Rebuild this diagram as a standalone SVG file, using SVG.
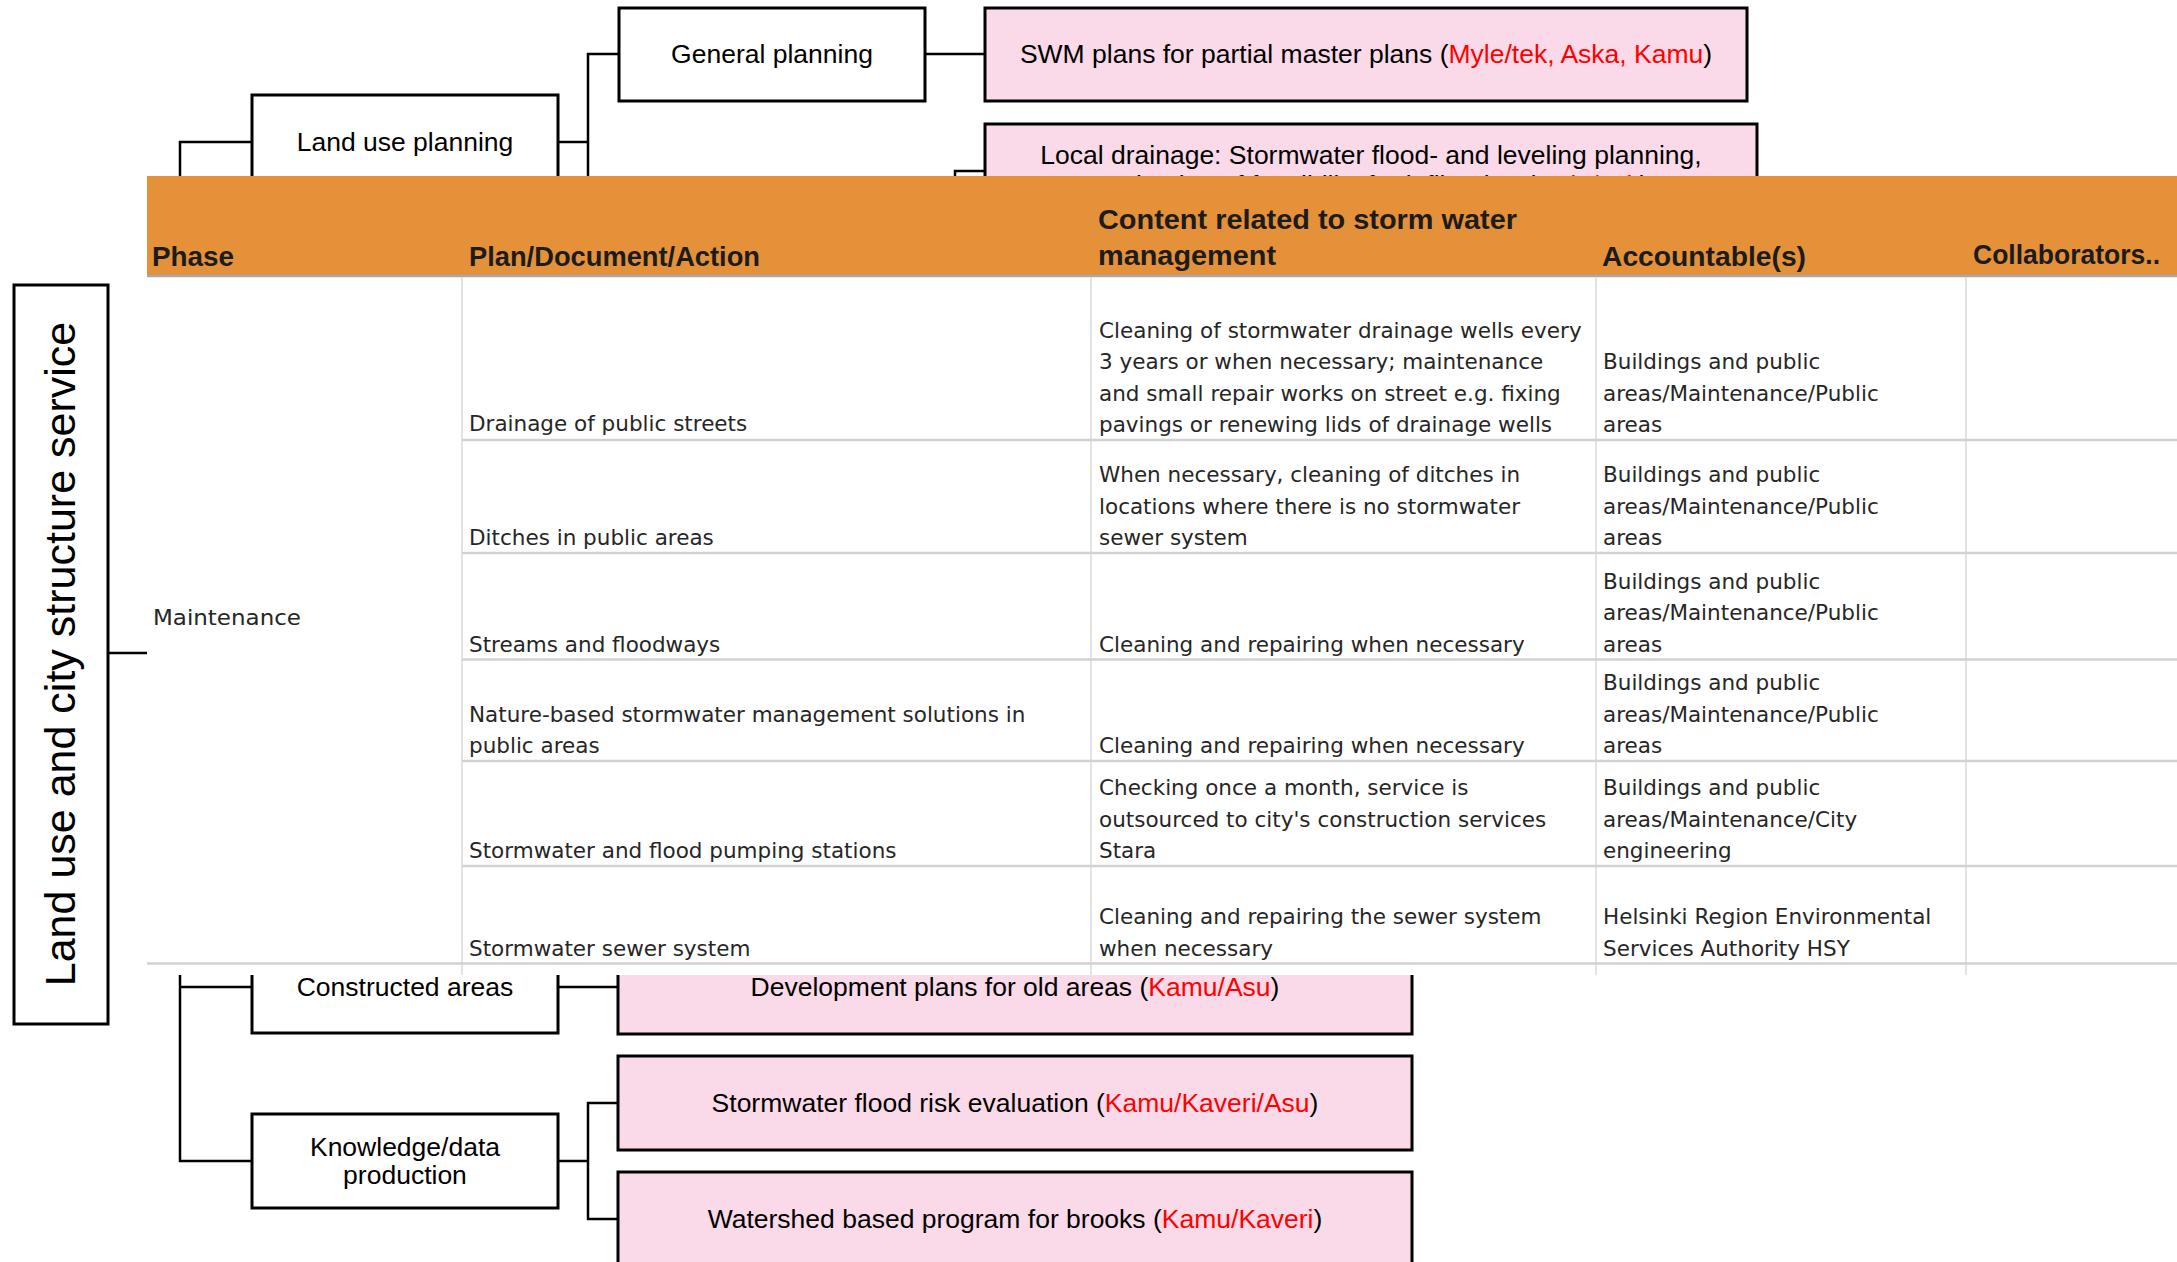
<svg xmlns="http://www.w3.org/2000/svg" width="2177" height="1262" viewBox="0 0 2177 1262">
<style>
.box{fill:#ffffff;stroke:#000000;stroke-width:3}
.pink{fill:#FADAE8;stroke:#000000;stroke-width:3}
.lbl{font-family:"Liberation Sans",Arial,sans-serif;font-size:26.5px;fill:#000000;text-anchor:middle}
.red{fill:#FF0000}
.conn{fill:none;stroke:#000000;stroke-width:2.5}
.hdr{font-family:"Liberation Sans",Arial,sans-serif;font-size:28px;font-weight:bold;fill:#1c1c1c}
.cell{font-family:"DejaVu Sans",sans-serif;font-size:21.5px;fill:#262626}
.rowline{stroke:#D2D2D2;stroke-width:2.5}
.colline{stroke:#DADADA;stroke-width:1.5}
</style>
<rect x="0" y="0" width="2177" height="1262" fill="#ffffff"/>

<g id="connectors">
  <path class="conn" d="M108,653 H147"/>
  <path class="conn" d="M252,142 H180 V1161 H252"/>
  <path class="conn" d="M180,987 H252"/>
  <path class="conn" d="M558,142 H588"/>
  <path class="conn" d="M619,54 H588 V260"/>
  <path class="conn" d="M925,54 H985"/>
  <path class="conn" d="M985,171 H955 V260"/>
  <path class="conn" d="M558,987 H618"/>
  <path class="conn" d="M558,1161 H588"/>
  <path class="conn" d="M618,1103 H588 V1219 H618"/>
</g>

<g id="node-service">
  <rect class="box" x="14" y="285" width="94" height="739" stroke-width="2.5"/>
  <text transform="translate(75,654) rotate(-90)" font-family="Liberation Sans, Arial, sans-serif" font-size="43" text-anchor="middle" fill="#000">Land use and city structure service</text>
</g>

<g id="node-landuse">
  <rect class="box" x="252" y="95" width="306" height="94"/>
  <text class="lbl" x="405" y="151">Land use planning</text>
</g>
<g id="node-general">
  <rect class="box" x="619" y="8" width="306" height="93"/>
  <text class="lbl" x="772" y="63">General planning</text>
</g>
<g id="node-swm">
  <rect class="pink" x="985" y="8" width="762" height="93"/>
  <text class="lbl" x="1366" y="63">SWM plans for partial master plans (<tspan class="red">Myle/tek, Aska, Kamu</tspan>)</text>
</g>
<g id="node-localdrainage">
  <rect class="pink" x="985" y="124" width="772" height="94"/>
  <text class="lbl" x="1371" y="164">Local drainage: Stormwater flood- and leveling planning,</text>
  <text class="lbl" x="1371" y="194">evaluation of feasibility for infiltration (<tspan class="red">Myle/Tek</tspan>)</text>
</g>
<g id="node-constructed">
  <rect class="box" x="252" y="940" width="306" height="93"/>
  <text class="lbl" x="405" y="996">Constructed areas</text>
</g>
<g id="node-devplans">
  <rect class="pink" x="618" y="940" width="794" height="94"/>
  <text class="lbl" x="1015" y="996">Development plans for old areas (<tspan class="red">Kamu/Asu</tspan>)</text>
</g>
<g id="node-knowledge">
  <rect class="box" x="252" y="1114" width="306" height="94"/>
  <text class="lbl" x="405" y="1156">Knowledge/data</text>
  <text class="lbl" x="405" y="1184">production</text>
</g>
<g id="node-floodrisk">
  <rect class="pink" x="618" y="1056" width="794" height="94"/>
  <text class="lbl" x="1015" y="1112">Stormwater flood risk evaluation (<tspan class="red">Kamu/Kaveri/Asu</tspan>)</text>
</g>
<g id="node-watershed">
  <rect class="pink" x="618" y="1172" width="794" height="110"/>
  <text class="lbl" x="1015" y="1228">Watershed based program for brooks (<tspan class="red">Kamu/Kaveri</tspan>)</text>
</g>

<g id="table">
  <rect x="147" y="176" width="2030" height="799" fill="#ffffff"/>
  <rect x="147" y="176" width="2030" height="99" fill="#E5913A"/>
  <line x1="147" y1="276" x2="2177" y2="276" stroke="#A8A8A8" stroke-width="2.5"/>
  <g class="colline">
    <line x1="462" y1="277" x2="462" y2="975"/>
    <line x1="1091" y1="277" x2="1091" y2="975"/>
    <line x1="1596" y1="277" x2="1596" y2="975"/>
    <line x1="1966" y1="277" x2="1966" y2="975"/>
  </g>
  <g class="rowline">
    <line x1="462" y1="440" x2="2177" y2="440"/>
    <line x1="462" y1="553" x2="2177" y2="553"/>
    <line x1="462" y1="659.5" x2="2177" y2="659.5"/>
    <line x1="462" y1="761" x2="2177" y2="761"/>
    <line x1="462" y1="866" x2="2177" y2="866"/>
    <line x1="147" y1="963.5" x2="2177" y2="963.5"/>
  </g>
  <text class="hdr" x="152" y="266" textLength="82" lengthAdjust="spacingAndGlyphs">Phase</text>
  <text class="hdr" x="469" y="266" textLength="291" lengthAdjust="spacingAndGlyphs">Plan/Document/Action</text>
  <text class="hdr" x="1098" y="229" textLength="419" lengthAdjust="spacingAndGlyphs">Content related to storm water</text>
  <text class="hdr" x="1098" y="265" textLength="178" lengthAdjust="spacingAndGlyphs">management</text>
  <text class="hdr" x="1602" y="266" textLength="204" lengthAdjust="spacingAndGlyphs">Accountable(s)</text>
  <text class="hdr" x="1973" y="264" font-size="26" textLength="187" lengthAdjust="spacingAndGlyphs">Collaborators..</text>

  <text class="cell" x="153" y="625" textLength="148" lengthAdjust="spacingAndGlyphs">Maintenance</text>

  <text class="cell" x="469" y="431">Drainage of public streets</text>
  <text class="cell" x="1099" y="337.5">Cleaning of stormwater drainage wells every</text>
  <text class="cell" x="1099" y="369">3 years or when necessary; maintenance</text>
  <text class="cell" x="1099" y="400.5">and small repair works on street e.g. fixing</text>
  <text class="cell" x="1099" y="432">pavings or renewing lids of drainage wells</text>
  <text class="cell" x="1603" y="369">Buildings and public</text>
  <text class="cell" x="1603" y="400.5">areas/Maintenance/Public</text>
  <text class="cell" x="1603" y="432">areas</text>

  <text class="cell" x="469" y="545">Ditches in public areas</text>
  <text class="cell" x="1099" y="482">When necessary, cleaning of ditches in</text>
  <text class="cell" x="1099" y="513.5">locations where there is no stormwater</text>
  <text class="cell" x="1099" y="545">sewer system</text>
  <text class="cell" x="1603" y="482">Buildings and public</text>
  <text class="cell" x="1603" y="513.5">areas/Maintenance/Public</text>
  <text class="cell" x="1603" y="545">areas</text>

  <text class="cell" x="469" y="651.5">Streams and floodways</text>
  <text class="cell" x="1099" y="651.5">Cleaning and repairing when necessary</text>
  <text class="cell" x="1603" y="588.5">Buildings and public</text>
  <text class="cell" x="1603" y="620">areas/Maintenance/Public</text>
  <text class="cell" x="1603" y="651.5">areas</text>

  <text class="cell" x="469" y="721.5">Nature-based stormwater management solutions in</text>
  <text class="cell" x="469" y="753">public areas</text>
  <text class="cell" x="1099" y="753">Cleaning and repairing when necessary</text>
  <text class="cell" x="1603" y="690">Buildings and public</text>
  <text class="cell" x="1603" y="721.5">areas/Maintenance/Public</text>
  <text class="cell" x="1603" y="753">areas</text>

  <text class="cell" x="469" y="858">Stormwater and flood pumping stations</text>
  <text class="cell" x="1099" y="795">Checking once a month, service is</text>
  <text class="cell" x="1099" y="826.5">outsourced to city's construction services</text>
  <text class="cell" x="1099" y="858">Stara</text>
  <text class="cell" x="1603" y="795">Buildings and public</text>
  <text class="cell" x="1603" y="826.5">areas/Maintenance/City</text>
  <text class="cell" x="1603" y="858">engineering</text>

  <text class="cell" x="469" y="955.5">Stormwater sewer system</text>
  <text class="cell" x="1099" y="924">Cleaning and repairing the sewer system</text>
  <text class="cell" x="1099" y="955.5">when necessary</text>
  <text class="cell" x="1603" y="924">Helsinki Region Environmental</text>
  <text class="cell" x="1603" y="955.5">Services Authority HSY</text>
</g>
</svg>
